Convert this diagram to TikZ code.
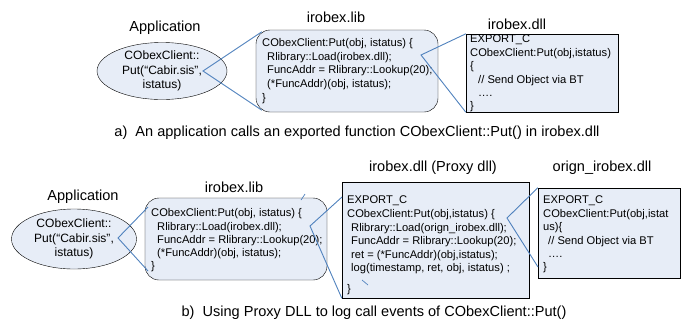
\documentclass[tikz,border=0pt]{standalone}
\usepackage{fontspec}
\setmainfont{Liberation Sans}
\usetikzlibrary{shapes.geometric}
\definecolor{boxfill}{RGB}{231,237,247}
\definecolor{linkblue}{RGB}{79,129,189}
\tikzset{
	lbl/.style={font=\fontsize{14.6}{16}\selectfont},
	code/.style={font=\fontsize{11.2}{13.6}\selectfont,align=left,anchor=north west,inner sep=0pt},
	app/.style={ellipse,draw,fill=boxfill,font=\fontsize{12.1}{14.6}\selectfont,align=center,inner sep=0pt},
	libbox/.style={draw,fill=boxfill,rounded corners=14bp,inner sep=0pt},
	dllbox/.style={draw,fill=boxfill,inner sep=0pt},
	link/.style={linkblue,line width=0.9pt}
}
\begin{document}
\begin{tikzpicture}[x=1bp,y=-1bp]
	\useasboundingbox (0,0) rectangle (685,323);
	% a) direct call
	\node[lbl] (appA) at (165,28) {Application};
	\node[app,minimum width=130bp,minimum height=56bp] (cliA) at (162,71) {CObexClient::\\Put(“Cabir.sis”,\\istatus)};
	\node[lbl] (libAlbl) at (336,17) {irobex.lib};
	\node[libbox,minimum width=182bp,minimum height=82bp] (libA) at (347,71) {};
	\node[code] (libAtxt) at (262,38.6) {CObexClient:Put(obj, istatus) \{\\
		\hspace*{5bp}Rlibrary::Load(irobex.dll);\\
		\hspace*{5bp}FuncAddr = Rlibrary::Lookup(20);\\
		\hspace*{5bp}(*FuncAddr)(obj, istatus);\\
		\}};
	\node[lbl] (dllAlbl) at (517,24) {irobex.dll};
	\node[dllbox,minimum width=152bp,minimum height=78bp] (dllA) at (542,73) {};
	\node[code,font=\fontsize{11.2}{13.4}\selectfont] (dllAtxt) at (470,35) {EXPORT\_C\\
		CObexClient:Put(obj,istatus)\\
		\{\\
		\hspace*{8bp}// Send Object via BT\\
		\hspace*{8bp}….\\
		\}};
	\coordinate (putA) at (203,71);
	\coordinate (libAin) at (421,55);
	\path (libA.north west) ++(6,2) coordinate (libAnw);
	\path (libA.south west) ++(6,-2) coordinate (libAsw);
	\draw[link] (libAnw) -- (putA) -- (libAsw);
	\draw[link] (dllA.north west) -- (libAin) -- (dllA.south west);
	\node[lbl] (capA) at (357,133) {a)\ \ An application calls an exported function CObexClient::Put() in irobex.dll};
	% b) proxy dll
	\node[lbl] (appB) at (83,197) {Application};
	\node[app,minimum width=125bp,minimum height=60bp] (cliB) at (74,239) {CObexClient::\\Put(“Cabir.sis”,\\istatus)};
	\node[lbl] (libBlbl) at (234,187) {irobex.lib};
	\node[libbox,minimum width=182bp,minimum height=82bp] (libB) at (236,239) {};
	\node[code,font=\fontsize{11.2}{13.3}\selectfont] (libBtxt) at (151,208.6) {CObexClient:Put(obj, istatus) \{\\
		\hspace*{6bp}Rlibrary::Load(irobex.dll);\\
		\hspace*{6bp}FuncAddr = Rlibrary::Lookup(20);\\
		\hspace*{6bp}(*FuncAddr)(obj, istatus);\\
		\}};
	\node[lbl] (proxylbl) at (433,168) {irobex.dll (Proxy dll)};
	\node[dllbox,minimum width=187bp,minimum height=116bp] (proxy) at (435.5,240) {};
	\node[code] (proxytxt) at (347,196) {EXPORT\_C\\
		CObexClient:Put(obj,istatus) \{\\
		\hspace*{4bp}Rlibrary::Load(orign\_irobex.dll);\\
		\hspace*{4bp}FuncAddr = Rlibrary::Lookup(20);\\
		\hspace*{4bp}ret = (*FuncAddr)(obj,istatus);\\
		\hspace*{4bp}log(timestamp, ret, obj, istatus) ;\\[7bp]
		\}};
	\node[lbl] (orignlbl) at (602,168) {orign\_irobex.dll};
	\node[dllbox,minimum width=142bp,minimum height=90bp] (orign) at (609,233) {};
	\node[code,font=\fontsize{11.2}{13.4}\selectfont] (origntxt) at (543,196) {EXPORT\_C\\
		CObexClient:Put(obj,istat\\
		us)\{\\
		\hspace*{5bp}// Send Object via BT\\
		\hspace*{5bp}….\\
		\}};
	\coordinate (putB) at (118,238);
	\coordinate (libBnw) at (148,207);
	\coordinate (libBsw) at (148,271);
	\coordinate (libBin) at (310,226);
	\coordinate (proxyin) at (342,197);
	\coordinate (proxyout) at (507,218);
	\coordinate (orignend) at (538,267);
	\draw[link] (libBnw) -- (putB) -- (libBsw);
	\draw[link] (proxyin) -- (libBin) -- (proxy.south west);
	\draw[link] (orign.north west) -- (proxyout) -- (orignend);
	\coordinate (tickA1) at (305,194);
	\coordinate (tickA2) at (301,200);
	\coordinate (tickB1) at (362,280);
	\coordinate (tickB2) at (368,285);
	\draw[link,line width=0.7pt] (tickA1) -- (tickA2);
	\draw[link,line width=0.7pt] (tickB1) -- (tickB2);
	\node[lbl] (capB) at (374,313) {b)\ \ Using Proxy DLL to log call events of CObexClient::Put()};
\end{tikzpicture}
\end{document}
